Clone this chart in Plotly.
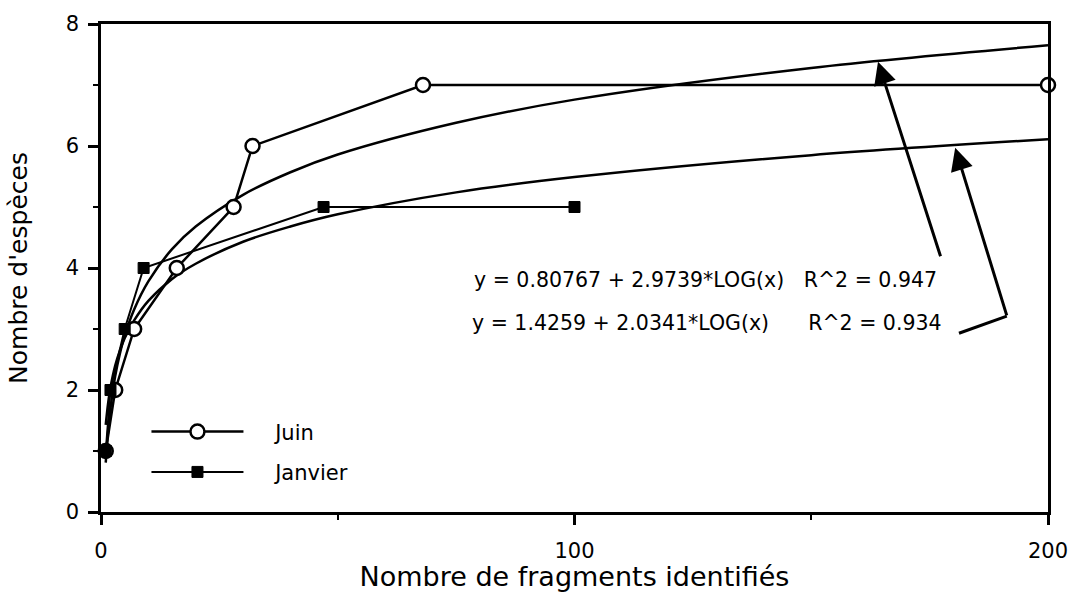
import plotly.graph_objects as go

# ---- data ----
juin_x = [1, 3, 7, 16, 28, 32, 68, 200]
juin_y = [1, 2, 3, 4, 5, 6, 7, 7]

janvier_x = [1, 2, 5, 9, 47, 100]
janvier_y = [1, 2, 3, 4, 5, 5]

fit_x = [1, 1.5, 2, 3, 4, 5, 7, 10, 15, 20, 30, 40, 50, 75, 100, 150, 200]
fit_juin_y = [0.81, 1.33, 1.70, 2.23, 2.60, 2.89, 3.32, 3.78, 4.31, 4.68,
              5.20, 5.57, 5.86, 6.38, 6.76, 7.28, 7.65]
fit_janvier_y = [1.43, 1.78, 2.04, 2.40, 2.65, 2.85, 3.14, 3.46, 3.82, 4.07,
                 4.43, 4.68, 4.88, 5.24, 5.49, 5.85, 6.11]

NB = "\u00a0"
eq_juin = "y = 0.80767 + 2.9739*LOG(x)" + NB * 3 + "R^2 = 0.947"
eq_janvier = "y = 1.4259 + 2.0341*LOG(x)" + NB * 6 + "R^2 = 0.934"

x_ticks = [0, 100, 200]
y_ticks = [0, 2, 4, 6, 8]

FONT = "DejaVu Sans, Liberation Sans, Arial, sans-serif"
SP = NB * 4

fig = go.Figure()

fig.add_trace(go.Scatter(x=fit_x, y=fit_juin_y, mode="lines", line_shape="spline",
                         line=dict(color="black", width=2.5), showlegend=False,
                         hoverinfo="skip", cliponaxis=False))
fig.add_trace(go.Scatter(x=fit_x, y=fit_janvier_y, mode="lines", line_shape="spline",
                         line=dict(color="black", width=2.5), showlegend=False,
                         hoverinfo="skip", cliponaxis=False))

fig.add_trace(go.Scatter(x=juin_x, y=juin_y, mode="lines+markers", name=SP + "Juin",
                         legendgroup="a",
                         line=dict(color="black", width=2.5),
                         marker=dict(symbol="circle", size=14, color="white",
                                     line=dict(color="black", width=2.5)),
                         cliponaxis=False))
fig.add_trace(go.Scatter(x=janvier_x, y=janvier_y, mode="lines+markers", name=SP + "Janvier",
                         legendgroup="b",
                         line=dict(color="black", width=2),
                         marker=dict(symbol="square", size=11, color="black",
                                     line=dict(color="black", width=1)),
                         cliponaxis=False))

# equation labels
fig.add_annotation(x=78.4, y=3.80, xref="x", yref="y", text=eq_juin, showarrow=False,
                   xanchor="left", yanchor="middle", font=dict(size=20.5, color="black", family=FONT))
fig.add_annotation(x=77.9, y=3.10, xref="x", yref="y", text=eq_janvier, showarrow=False,
                   xanchor="left", yanchor="middle", font=dict(size=20.5, color="black", family=FONT))

# arrows
fig.add_annotation(x=164.1, y=7.38, xref="x", yref="y", ax=63, ay=196, text="",
                   showarrow=True, arrowhead=2, arrowsize=1.5, arrowwidth=3, arrowcolor="black")
fig.add_annotation(x=180.4, y=5.97, xref="x", yref="y", ax=52, ay=169, text="",
                   showarrow=True, arrowhead=2, arrowsize=1.5, arrowwidth=3, arrowcolor="black")
fig.add_shape(type="line", xref="x", yref="y", x0=181.2, y0=2.93, x1=191.3, y1=3.21,
              line=dict(color="black", width=3))

fig.update_layout(
    width=1071, height=592,
    margin=dict(l=101, r=23, t=24, b=80),
    paper_bgcolor="white", plot_bgcolor="white",
    font=dict(family=FONT, color="black", size=21),
    showlegend=True,
    legend=dict(x=0.048, y=0.206, xanchor="left", yanchor="top",
                bgcolor="rgba(0,0,0,0)", font=dict(size=21, family=FONT),
                itemwidth=92, tracegroupgap=10, traceorder="grouped"),
)

fig.update_xaxes(range=[0, 200], tickvals=x_ticks, ticktext=[str(v) for v in x_ticks],
                 automargin=False,
                 showgrid=False, zeroline=False,
                 showline=True, linecolor="black", linewidth=2.5, mirror=True,
                 ticks="outside", ticklen=10, tickwidth=2.5, tickcolor="black",
                 ticklabelstandoff=8,
                 minor=dict(dtick=50, ticks="outside", ticklen=5, tickwidth=2, tickcolor="black"),
                 tickfont=dict(size=21, family=FONT),
                 title=dict(text="Nombre de fragments identifiés",
                            font=dict(size=27, family=FONT), standoff=0))
fig.update_yaxes(range=[0, 8], tickvals=y_ticks, ticktext=[str(v) for v in y_ticks],
                 automargin=False,
                 showgrid=False, zeroline=False,
                 showline=True, linecolor="black", linewidth=2.5, mirror=True,
                 ticks="outside", ticklen=10, tickwidth=2.5, tickcolor="black",
                 ticklabelstandoff=5,
                 minor=dict(dtick=1, ticks="outside", ticklen=5, tickwidth=2, tickcolor="black"),
                 tickfont=dict(size=21, family=FONT),
                 title=dict(text="Nombre d'espèces", font=dict(size=25, family=FONT), standoff=31))

fig.write_html("out.html",
               config={"displayModeBar": False},
               post_script="document.body.style.margin='0px';document.body.style.overflow='hidden';")
